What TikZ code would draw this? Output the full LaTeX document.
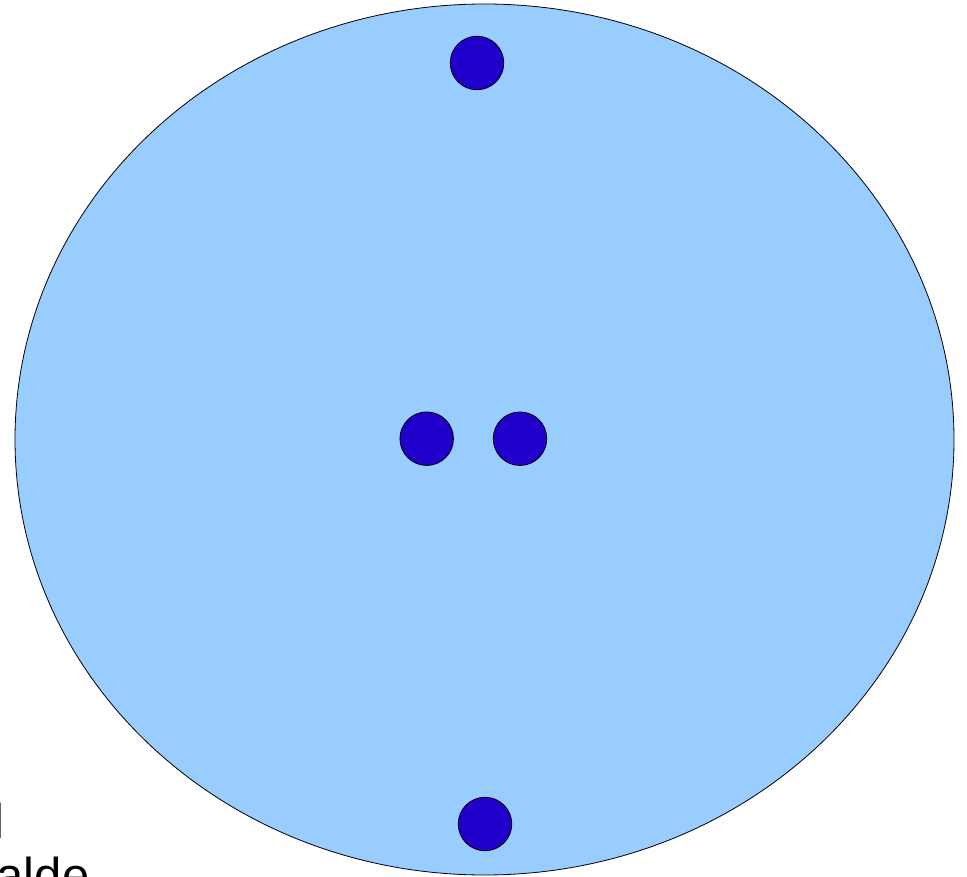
\documentclass[tikz,border=0pt]{standalone}
\usepackage{fontspec}
\setmainfont{Liberation Sans}
\usepackage{tikz}
\usetikzlibrary{positioning}
\definecolor{discblue}{HTML}{99CCFF}
\definecolor{dotblue}{HTML}{2200CC}
\newcommand{\dotCoords}{477/63/top, 426.7/438.7/midl, 520/438.7/midr, 485/824/bot}

\begin{document}
\begin{tikzpicture}[x=1pt, y=-1pt,
  disc/.style={draw=black, line width=0.8pt, fill=discblue},
  dot/.style={circle, draw=black, line width=0.8pt, fill=dotblue, minimum size=53.5pt, inner sep=0pt},
  caption/.style={font=\fontsize{49}{56}\selectfont, inner sep=0pt, anchor=base west}]
  \useasboundingbox (0,0) rectangle (967,877);
  \clip (0,0) rectangle (967,877);
  \draw[disc] (484.5,439.5) ellipse [x radius=469.5, y radius=435.5];
  \foreach \x/\y/\n in \dotCoords { \node[dot] (\n) at (\x,\y) {}; }
  \node[caption] (lineone) at (-6.8,838) {l};
  \node[caption] (linetwo) at (-3.5,892) {alde};
\end{tikzpicture}
\end{document}
